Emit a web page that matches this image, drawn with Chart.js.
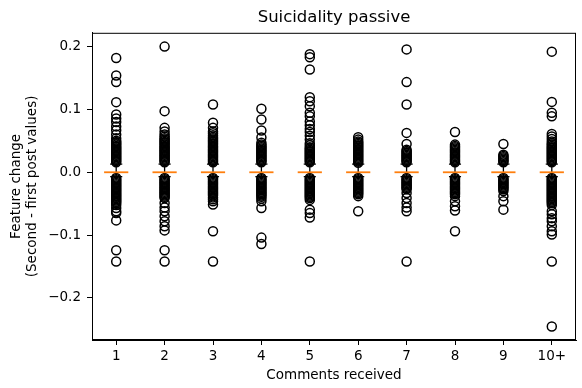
<!DOCTYPE html>
<html>
<head>
<meta charset="utf-8">
<script src="https://cdn.jsdelivr.net/npm/chart.js@4.4.1/dist/chart.umd.min.js"></script>
<style>
  html, body { margin: 0; padding: 0; background: #fff; }
  #wrap { width: 582px; height: 388px; }
</style>
</head>
<body>
<div id="wrap"><canvas id="chart"></canvas></div>
<script>
const categories = ["1", "2", "3", "4", "5", "6", "7", "8", "9", "10+"];
const yTicks = [-0.2, -0.1, 0.0, 0.1, 0.2];

// box stats per category
const medians = [0, 0, 0, 0, 0, 0, 0, 0, 0, 0];
const q1 = [0, 0, 0, 0, 0, 0, 0, 0, 0, 0];
const q3 = [0, 0, 0, 0, 0, 0, 0, 0, 0, 0];
const whiskerHi = [0.013, 0.013, 0.013, 0.013, 0.013, 0.013, 0.013, 0.013, 0.013, 0.013];
const whiskerLo = [-0.007, -0.007, -0.007, -0.007, -0.007, -0.007, -0.007, -0.007, -0.007, -0.007];

// outliers per category
const fliers1 = [0.182, 0.154, 0.1435, 0.1116, 0.092, 0.0856, 0.080, 0.073, 0.067, 0.060, 0.054, 0.050, 0.048, 0.046, 0.044, 0.042, 0.040, 0.038, 0.036, 0.034, 0.032, 0.030, 0.028, 0.026, 0.024, 0.022, 0.020, 0.018, 0.016,
  -0.009, -0.011, -0.013, -0.015, -0.017, -0.019, -0.021, -0.023, -0.025, -0.027, -0.029, -0.031, -0.033, -0.035, -0.037, -0.039, -0.041, -0.043, -0.045, -0.047, -0.049, -0.052, -0.057, -0.062, -0.065, -0.0766, -0.124, -0.142];
const fliers2 = [0.200, 0.0973, 0.0707, 0.065, 0.060, 0.057, 0.054, 0.052, 0.050, 0.048, 0.046, 0.044, 0.042, 0.040, 0.038, 0.036, 0.034, 0.032, 0.030, 0.028, 0.026, 0.024, 0.022, 0.020, 0.018, 0.016,
  -0.009, -0.011, -0.013, -0.015, -0.017, -0.019, -0.021, -0.023, -0.025, -0.027, -0.029, -0.031, -0.033, -0.035, -0.037, -0.039, -0.041, -0.049, -0.056, -0.062, -0.070, -0.078, -0.086, -0.0925, -0.124, -0.142];
const fliers3 = [0.108, 0.0787, 0.0707, 0.065, 0.062, 0.059, 0.056, 0.054, 0.052, 0.050, 0.048, 0.046, 0.044, 0.042, 0.040, 0.038, 0.036, 0.034, 0.032, 0.030, 0.028, 0.026, 0.024, 0.022, 0.020, 0.018, 0.016,
  -0.009, -0.011, -0.013, -0.015, -0.017, -0.019, -0.021, -0.023, -0.025, -0.027, -0.029, -0.031, -0.033, -0.035, -0.037, -0.040, -0.043, -0.046, -0.0515, -0.094, -0.142];
const fliers4 = [0.101, 0.084, 0.0665, 0.0555, 0.047, 0.044, 0.042, 0.040, 0.038, 0.036, 0.034, 0.032, 0.030, 0.028, 0.026, 0.024, 0.022, 0.020, 0.018, 0.016,
  -0.009, -0.011, -0.013, -0.015, -0.017, -0.019, -0.021, -0.023, -0.025, -0.027, -0.029, -0.031, -0.033, -0.035, -0.037, -0.039, -0.042, -0.046, -0.057, -0.104, -0.1143];
const fliers5 = [0.188, 0.183, 0.1637, 0.1196, 0.113, 0.105, 0.0946, 0.089, 0.081, 0.075, 0.069, 0.064, 0.058, 0.052, 0.046, 0.043, 0.040, 0.038, 0.036, 0.034, 0.032, 0.030, 0.028, 0.026, 0.024, 0.022, 0.020, 0.018, 0.016,
  -0.009, -0.011, -0.013, -0.015, -0.017, -0.019, -0.021, -0.023, -0.025, -0.027, -0.029, -0.031, -0.033, -0.035, -0.037, -0.039, -0.041, -0.044, -0.0595, -0.065, -0.072, -0.142];
const fliers6 = [0.0558, 0.052, 0.049, 0.047, 0.045, 0.043, 0.041, 0.039, 0.037, 0.035, 0.033, 0.031, 0.029, 0.027, 0.025, 0.023, 0.021, 0.019, 0.017, 0.015,
  -0.009, -0.011, -0.013, -0.015, -0.017, -0.019, -0.021, -0.023, -0.025, -0.027, -0.029, -0.031, -0.033, -0.035, -0.038, -0.062];
const fliers7 = [0.1956, 0.1435, 0.108, 0.0627, 0.045, 0.036, 0.034, 0.032, 0.030, 0.028, 0.026, 0.024, 0.022, 0.020, 0.018, 0.016,
  -0.009, -0.011, -0.013, -0.015, -0.017, -0.019, -0.021, -0.023, -0.025, -0.027, -0.033, -0.041, -0.049, -0.056, -0.062, -0.142];
const fliers8 = [0.064, 0.044, 0.042, 0.040, 0.038, 0.036, 0.034, 0.032, 0.030, 0.028, 0.026, 0.024, 0.022, 0.020, 0.018, 0.016,
  -0.009, -0.011, -0.013, -0.015, -0.017, -0.019, -0.021, -0.023, -0.025, -0.027, -0.029, -0.031, -0.033, -0.035, -0.038, -0.046, -0.054, -0.061, -0.094];
const fliers9 = [0.045, 0.028, 0.026, 0.024, 0.022, 0.020, 0.018, 0.016,
  -0.009, -0.011, -0.013, -0.015, -0.017, -0.019, -0.021, -0.023, -0.025, -0.027, -0.030, -0.038, -0.046, -0.0595];
const fliers10 = [0.192, 0.112, 0.0946, 0.089, 0.061, 0.057, 0.053, 0.049, 0.046, 0.044, 0.042, 0.040, 0.038, 0.036, 0.034, 0.032, 0.030, 0.028, 0.026, 0.024, 0.022, 0.020, 0.018, 0.016,
  -0.009, -0.011, -0.013, -0.015, -0.017, -0.019, -0.021, -0.023, -0.025, -0.027, -0.029, -0.031, -0.033, -0.035, -0.037, -0.039, -0.041, -0.043, -0.045, -0.047, -0.049, -0.052, -0.062, -0.067, -0.073, -0.078, -0.086, -0.094, -0.099, -0.142, -0.2456];

const allFliers = [fliers1, fliers2, fliers3, fliers4, fliers5, fliers6, fliers7, fliers8, fliers9, fliers10];

const flierPoints = [];
allFliers.forEach((list, i) => {
  list.forEach(v => flierPoints.push({ x: i + 1, y: v }));
});

const FONT = "'DejaVu Sans', sans-serif";
const BOX_W = 0.5;

function hline(ctx, xs, x0, x1, py) {
  ctx.beginPath();
  ctx.moveTo(xs.getPixelForValue(x0), py);
  ctx.lineTo(xs.getPixelForValue(x1), py);
  ctx.stroke();
}

// whiskers, caps and boxes under the outliers; medians above them
const boxPlugin = {
  id: "boxes",
  beforeDatasetsDraw(chart) {
    const ctx = chart.ctx;
    const xs = chart.scales.x, ys = chart.scales.y;
    ctx.save();
    ctx.strokeStyle = "#000";
    ctx.lineWidth = 1.3;
    categories.forEach((c, i) => {
      const x = i + 1;
      const px = xs.getPixelForValue(x);
      ctx.beginPath();
      ctx.moveTo(px, ys.getPixelForValue(q3[i]));
      ctx.lineTo(px, ys.getPixelForValue(whiskerHi[i]));
      ctx.moveTo(px, ys.getPixelForValue(q1[i]));
      ctx.lineTo(px, ys.getPixelForValue(whiskerLo[i]));
      ctx.stroke();
      hline(ctx, xs, x - BOX_W / 4, x + BOX_W / 4, ys.getPixelForValue(whiskerHi[i]));
      hline(ctx, xs, x - BOX_W / 4, x + BOX_W / 4, ys.getPixelForValue(whiskerLo[i]));
      const top = ys.getPixelForValue(q3[i]), bot = ys.getPixelForValue(q1[i]);
      if (bot - top > 1) {
        const l = xs.getPixelForValue(x - BOX_W / 2), r = xs.getPixelForValue(x + BOX_W / 2);
        ctx.strokeRect(l, top, r - l, bot - top);
      }
    });
    ctx.restore();
  },
  afterDatasetsDraw(chart) {
    const ctx = chart.ctx;
    const xs = chart.scales.x, ys = chart.scales.y;
    const a = chart.chartArea;
    ctx.save();
    ctx.strokeStyle = "#ff7f0e";
    ctx.lineWidth = 1.8;
    medians.forEach((m, i) => {
      hline(ctx, xs, i + 1 - BOX_W / 2, i + 1 + BOX_W / 2, ys.getPixelForValue(m));
    });
    // frame
    ctx.strokeStyle = "#000";
    ctx.lineWidth = 1;
    ctx.strokeRect(a.left + 0.5, a.top + 0.5, a.right - a.left - 1, a.bottom - a.top - 1);
    ctx.restore();
  }
};

const config = {
  type: "scatter",
  data: {
    datasets: [{
      data: flierPoints,
      pointStyle: "circle",
      pointRadius: 4.5,
      pointBorderWidth: 1.5,
      pointBorderColor: "#000",
      pointBackgroundColor: "rgba(0,0,0,0)",
      pointHoverRadius: 4.5
    }]
  },
  options: {
    responsive: true,
    maintainAspectRatio: false,
    animation: false,
    layout: { padding: { left: 0, right: 2, top: 0, bottom: 0 } },
    plugins: {
      legend: { display: false },
      tooltip: { enabled: false },
      title: {
        display: true,
        fullSize: false,
        text: "Suicidality passive",
        color: "#000",
        font: { family: FONT, size: 16.5, weight: "normal" },
        padding: { top: 8, bottom: 5 }
      }
    },
    scales: {
      x: {
        type: "linear",
        min: 0.5,
        max: 10.5,
        afterBuildTicks: axis => {
          axis.ticks = categories.map((c, i) => ({ value: i + 1 }));
        },
        afterFit: axis => { axis.height = 48; },
        grid: { display: true, drawOnChartArea: false, drawTicks: true, tickLength: 5, color: "#000" },
        border: { display: true, color: "#000" },
        ticks: {
          color: "#000",
          font: { family: FONT, size: 13.5 },
          padding: 3,
          maxRotation: 0,
          callback: v => categories[Math.round(v) - 1]
        },
        title: {
          display: true,
          text: "Comments received",
          color: "#000",
          font: { family: FONT, size: 13.5 },
          padding: { top: 2, bottom: 4 }
        }
      },
      y: {
        type: "linear",
        min: -0.267,
        max: 0.222,
        afterBuildTicks: axis => {
          axis.ticks = yTicks.map(v => ({ value: v }));
        },
        afterFit: axis => { axis.width = 92; },
        grid: { display: true, drawOnChartArea: false, drawTicks: true, tickLength: 5, color: "#000" },
        border: { display: true, color: "#000" },
        ticks: {
          color: "#000",
          font: { family: FONT, size: 13.5 },
          padding: 6,
          callback: v => (v < 0 ? "\u2212" : "") + Math.abs(v).toFixed(1)
        },
        title: {
          display: true,
          text: ["Feature change", "(Second - first post values)"],
          color: "#000",
          font: { family: FONT, size: 13.5, lineHeight: 1.15 },
          padding: { top: 9, bottom: 4 }
        }
      }
    }
  },
  plugins: [boxPlugin]
};

const myChart = new Chart(document.getElementById("chart"), config);
</script>
</body>
</html>
